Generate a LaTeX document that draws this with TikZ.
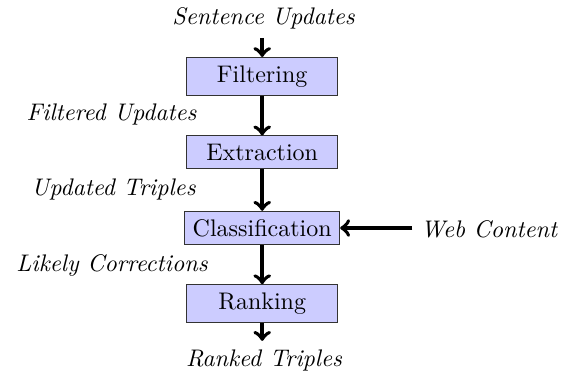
\documentclass[tikz,border=0pt]{standalone}
\begin{document}
\begin{tikzpicture}[x=0.41667pt, y=-0.41667pt,
  procbox/.style={draw=black!80, fill=blue!20, minimum width=63pt, inner sep=3.33pt},
  flowlabel/.style={font=\itshape, inner sep=3.33pt},
  flowarrow/.style={->, ultra thick}]
\useasboundingbox (0,0) rectangle (573,373);
\node[procbox] (filt) at (262.2,76.3) {Filtering};
\node[procbox] (extr) at (262.2,152.2) {Extraction};
\node[procbox] (clas) at (262.2,228) {Classification};
\node[procbox] (rank) at (262.2,303.5) {Ranking};
\node[flowlabel] (su) at (263.5,18.5) {Sentence Updates};
\node[flowlabel] (fu) at (111.5,114) {Filtered Updates};
\node[flowlabel] (ut) at (113.5,189) {Updated Triples};
\node[flowlabel] (lc) at (112,265) {Likely Corrections};
\node[flowlabel] (rt) at (264,360) {Ranked Triples};
\node[flowlabel] (wc) at (489,229) {Web Content};
\draw[flowarrow] (su.south -| filt.north) -- (filt.north);
\draw[flowarrow] (filt) -- (extr);
\draw[flowarrow] (extr) -- (clas);
\draw[flowarrow] (clas) -- (rank);
\draw[flowarrow] (rank.south) -- (rank.south |- rt.north);
\draw[flowarrow] (wc.west |- clas.east) -- (clas.east);
\end{tikzpicture}
\end{document}
